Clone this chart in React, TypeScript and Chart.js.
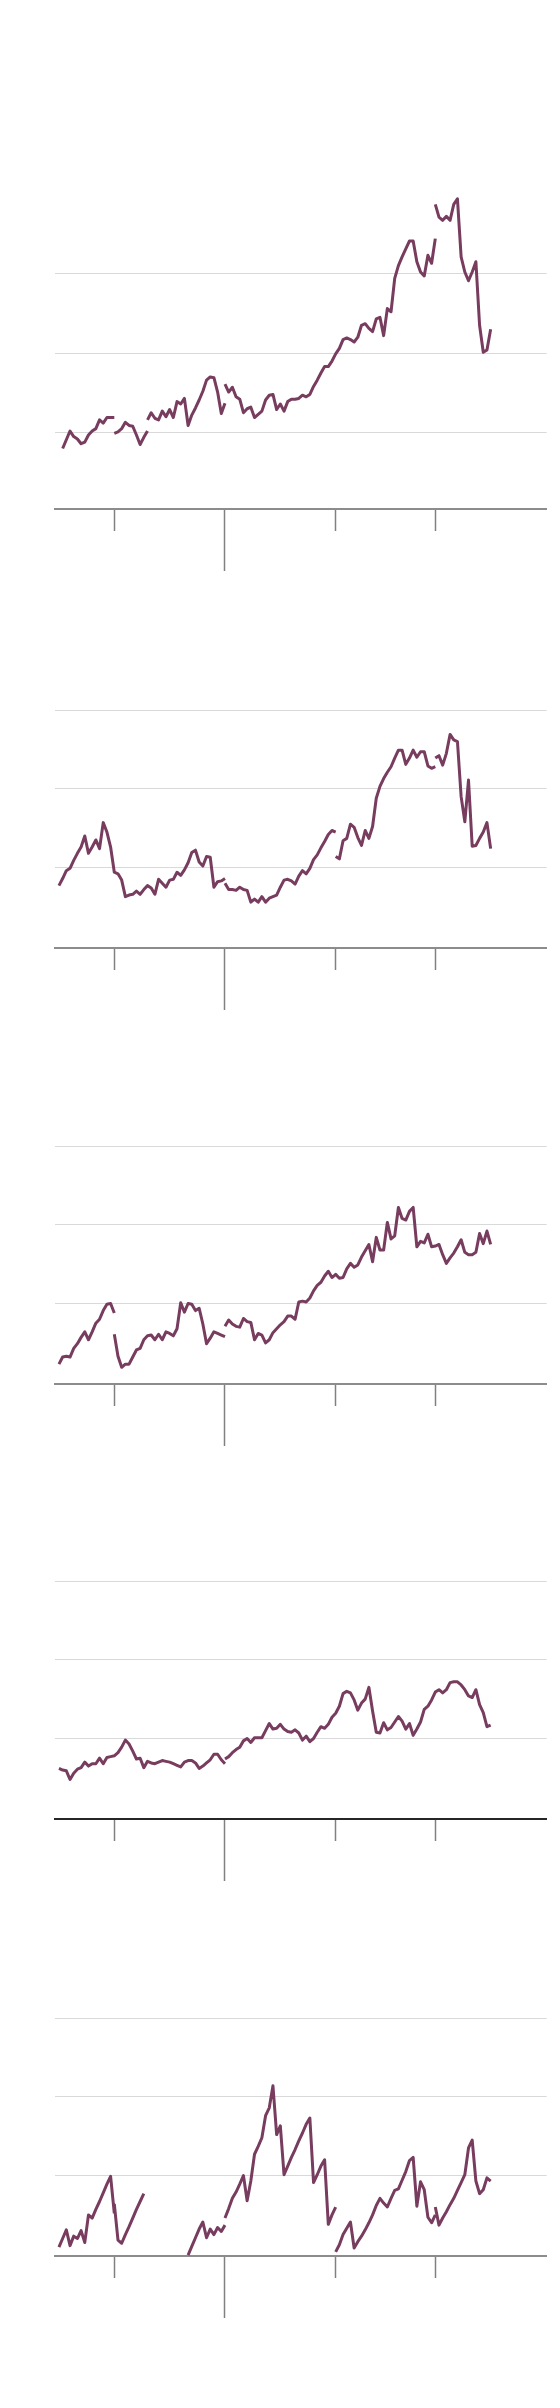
import { useEffect, useRef } from "react";
import { Chart, registerables } from "chart.js";

Chart.register(...registerables);

// ---- categories (four-month periods) ----
const YEARS = [
  1985, 1986, 1987, 1988, 1989, 1990, 1991, 1992, 1993, 1994,
  1995, 1996, 1997, 1998, 1999, 2000, 2001, 2002, 2003, 2004,
  2005, 2006, 2007, 2008, 2009, 2010, 2011, 2012, 2013, 2014,
  2015, 2016, 2017, 2018, 2019, 2020, 2021, 2022, 2023, 2024,
];
const TERMS = ["T1", "T2", "T3"];
const LAST_PERIOD = "2024 T1";
const PERIODS = YEARS.flatMap((y) => TERMS.map((t) => `${y} ${t}`)).filter((p) => p <= LAST_PERIOD);

// ---- x axis ticks ----
const TICK_YEARS = [1990, 2000, 2010, 2019];
const MAJOR_TICK_YEARS = [2000];
const GRID_VALUES = [10, 20, 30];

// ---- panel 1 ----
const p1a = [8.0, 9.1, 10.2, 9.5, 9.2, 8.6, 8.8, 9.7, 10.2, 10.5, 11.6, 11.2, 11.9, 11.9, 11.9];
const p1b = [9.9, 10.1, 10.5, 11.3, 10.9, 10.8, 9.7, 8.5, 9.4, 10.2];
const p1c = [11.6, 12.5, 11.8, 11.6, 12.7, 12.0, 12.9, 11.9, 13.9, 13.6, 14.3, 10.9, 12.2, 13.1, 14.1, 15.2, 16.6, 17.0, 16.9, 15.1, 12.4, 13.7];
const p1d = [16.1, 15.1, 15.7, 14.5, 14.2, 12.5, 13.0, 13.2, 11.9, 12.3, 12.7, 14.1, 14.7, 14.8, 12.9, 13.6, 12.7, 13.9, 14.2, 14.2, 14.3, 14.7, 14.5, 14.8, 15.8, 16.6, 17.5, 18.3, 18.3, 19.0, 19.9, 20.6, 21.7, 21.9, 21.7, 21.4, 22.0, 23.5, 23.7, 23.1, 22.7, 24.3, 24.5, 22.2, 25.6, 25.2, 29.4, 31.0, 32.1, 33.1, 34.1, 34.1, 31.5, 30.2, 29.7, 32.3, 31.3, 34.4];
const p1e = [38.7, 37.1, 36.7, 37.2, 36.7, 38.7, 39.4, 32.1, 30.2, 29.1, 30.2, 31.5, 23.5, 20.1, 20.4, 23.0];

// ---- panel 2 ----
const p2a = [7.7, 8.6, 9.6, 9.9, 10.9, 11.8, 12.6, 14.0, 11.8, 12.6, 13.5, 12.4, 15.7, 14.5, 12.6, 9.4, 9.2, 8.4, 6.3, 6.5, 6.6, 7.0, 6.6, 7.2, 7.7, 7.4, 6.6, 8.5, 8.0, 7.5, 8.4, 8.5, 9.4, 9.0, 9.7, 10.6, 11.9, 12.2, 10.7, 10.2, 11.4, 11.3, 7.5, 8.2, 8.3, 8.6];
const p2b = [8.0, 7.2, 7.2, 7.1, 7.5, 7.2, 7.1, 5.6, 6.0, 5.6, 6.3, 5.6, 6.1, 6.3, 6.5, 7.5, 8.4, 8.5, 8.3, 7.9, 8.9, 9.6, 9.2, 9.9, 11.0, 11.6, 12.5, 13.3, 14.2, 14.7, 14.5];
const p2c = [11.4, 11.1, 13.4, 13.7, 15.5, 15.1, 13.8, 12.8, 14.7, 13.7, 15.2, 18.8, 20.3, 21.3, 22.1, 22.8, 23.9, 24.9, 24.9, 23.1, 23.9, 24.9, 24.0, 24.7, 24.7, 22.9, 22.6, 22.8];
const p2d = [23.9, 24.2, 23.0, 24.5, 26.9, 26.2, 26.0, 19.0, 15.8, 21.1, 12.7, 12.8, 13.7, 14.5, 15.7, 12.4];

// ---- panel 3 ----
const p3a = [2.3, 3.2, 3.3, 3.2, 4.3, 4.9, 5.7, 6.4, 5.4, 6.4, 7.5, 8.0, 9.1, 9.9, 10.0, 8.8];
const p3b = [6.1, 3.3, 1.9, 2.3, 2.3, 3.2, 4.1, 4.3, 5.4, 5.9, 6.0, 5.4, 6.1, 5.4, 6.4, 6.2, 5.9, 6.8, 10.1, 8.9, 10.0, 9.9, 9.1, 9.4, 7.4, 4.9, 5.6, 6.4, 6.2, 6.0, 5.8];
const p3c = [7.1, 7.9, 7.4, 7.1, 7.0, 8.1, 7.7, 7.6, 5.4, 6.2, 6.0, 5.0, 5.4, 6.3, 6.8, 7.3, 7.7, 8.4, 8.4, 8.0, 10.2, 10.3, 10.2, 10.7, 11.6, 12.3, 12.7, 13.5, 14.1, 13.3, 13.7, 13.2, 13.3, 14.4, 15.1, 14.6, 14.9, 15.9, 16.7, 17.5, 15.3, 18.4, 16.8, 16.8, 20.3, 18.2, 18.6, 22.2, 20.8, 20.6, 21.7, 22.2, 17.2, 17.9, 17.7, 18.8, 17.2, 17.3, 17.5, 16.2, 15.1, 15.8, 16.4, 17.2, 18.1, 16.5, 16.2, 16.2, 16.5, 18.9, 17.6, 19.2, 17.5];

// ---- panel 4 ----
const p4a = [6.2, 6.0, 5.9, 4.8, 5.6, 6.1, 6.3, 7.0, 6.5, 6.8, 6.8, 7.5, 6.8, 7.6, 7.7, 7.8, 8.2, 8.9, 9.8, 9.3, 8.4, 7.4, 7.5, 6.3, 7.1, 6.9, 6.8, 7.0, 7.2, 7.1, 7.0, 6.8, 6.6, 6.4, 7.0, 7.2, 7.2, 6.9, 6.2, 6.5, 6.9, 7.3, 8.0, 8.0, 7.3, 6.8];
const p4b = [7.4, 7.7, 8.2, 8.6, 8.9, 9.7, 10.0, 9.5, 10.1, 10.1, 10.1, 11.0, 11.9, 11.2, 11.3, 11.8, 11.2, 10.9, 10.8, 11.1, 10.7, 9.8, 10.3, 9.6, 10.0, 10.8, 11.5, 11.3, 11.8, 12.7, 13.2, 14.1, 15.7, 16.0, 15.8, 14.9, 13.6, 14.5, 15.0, 16.5, 13.5, 10.8, 10.7, 12.0, 11.1, 11.4, 12.1, 12.8, 12.2, 11.2, 11.9, 10.4, 11.2, 12.1, 13.7, 14.1, 14.9, 15.9, 16.2, 15.8, 16.2, 17.1, 17.2, 17.2, 16.8, 16.2, 15.4, 15.2, 16.2, 14.3, 13.3, 11.5, 11.7];

// ---- panel 5 ----
const p5a = [0.9, 2.0, 3.1, 1.1, 2.3, 2.0, 3.0, 1.5, 5.0, 4.6, 5.7, 6.7, 7.8, 8.9, 9.9, 5.2];
const p5b = [6.4, 1.8, 1.4, 2.5, 3.5, 4.6, 5.7, 6.7, 7.7];
const p5c = [-0.1, 1.0, 2.1, 3.2, 4.1, 2.1, 3.2, 2.5, 3.4, 2.9, 3.7];
const p5d = [4.6, 5.8, 7.1, 7.9, 8.9, 10.0, 6.8, 9.3, 12.7, 13.7, 14.8, 17.6, 18.6, 21.4, 15.2, 16.3, 10.1, 11.2, 12.3, 13.3, 14.4, 15.4, 16.5, 17.3, 9.1, 10.1, 11.2, 12.0, 3.8, 5.0, 6.0];
const p5e = [0.3, 1.2, 2.5, 3.3, 4.1, 0.8, 1.6, 2.3, 3.1, 4.0, 5.0, 6.2, 7.1, 6.5, 6.0, 7.1, 8.1, 8.3, 9.4, 10.5, 11.9, 12.3, 6.1, 9.2, 8.2, 4.7, 4.0, 5.0];
const p5f = [6.0, 3.7, 4.6, 5.4, 6.3, 7.1, 8.1, 9.1, 10.1, 13.5, 14.5, 9.3, 7.7, 8.2, 9.7, 9.3];

type Segment = { from: string; values: number[] };
type PanelDef = { segments: Segment[]; yMin: number; yMax: number; axisColor: string; top: number };

const PANELS: PanelDef[] = [
  {
    segments: [
      { from: "1985 T2", values: p1a },
      { from: "1990 T1", values: p1b },
      { from: "1993 T1", values: p1c },
      { from: "2000 T1", values: p1d },
      { from: "2019 T1", values: p1e },
    ],
    yMin: 0.39, yMax: 40.39, axisColor: "#8c8c8c", top: 153,
  },
  {
    segments: [
      { from: "1985 T1", values: p2a },
      { from: "2000 T1", values: p2b },
      { from: "2010 T1", values: p2c },
      { from: "2019 T1", values: p2d },
    ],
    yMin: -0.22, yMax: 40.16, axisColor: "#8c8c8c", top: 592,
  },
  {
    segments: [
      { from: "1985 T1", values: p3a },
      { from: "1990 T1", values: p3b },
      { from: "2000 T1", values: p3c },
    ],
    yMin: -0.22, yMax: 40.16, axisColor: "#8c8c8c", top: 1028,
  },
  {
    segments: [
      { from: "1985 T1", values: p4a },
      { from: "2000 T1", values: p4b },
    ],
    yMin: -0.22, yMax: 40.16, axisColor: "#262626", top: 1463,
  },
  {
    segments: [
      { from: "1985 T1", values: p5a },
      { from: "1990 T1", values: p5b },
      { from: "1996 T3", values: p5c },
      { from: "2000 T1", values: p5d },
      { from: "2010 T1", values: p5e },
      { from: "2019 T1", values: p5f },
    ],
    yMin: -0.22, yMax: 40.16, axisColor: "#8c8c8c", top: 1900,
  },
];

const LINE_COLOR = "#773c5e";
const X_MIN = 1984.67;
const X_MAX = 2029.064;

function periodToX(p: string): number {
  const year = Number(p.slice(0, 4));
  const term = Number(p.slice(6));
  return year + (term - 1) / 3;
}

function buildPoints(segments: Segment[]) {
  const pts: { x: number; y: number | null }[] = [];
  segments.forEach((seg, si) => {
    const startIdx = PERIODS.indexOf(seg.from);
    if (si > 0) pts.push({ x: periodToX(PERIODS[startIdx]), y: null });
    seg.values.forEach((v, k) => {
      pts.push({ x: periodToX(PERIODS[startIdx + k]), y: v });
    });
  });
  return pts;
}

function Panel({ def }: { def: PanelDef }) {
  const ref = useRef<HTMLCanvasElement | null>(null);
  useEffect(() => {
    if (!ref.current) return;
    const chart = new Chart(ref.current, {
      type: "line",
      data: {
        datasets: [
          {
            data: buildPoints(def.segments) as any,
            borderColor: LINE_COLOR,
            borderWidth: 3,
            pointRadius: 0,
            tension: 0,
            spanGaps: false,
            borderJoinStyle: "round",
            borderCapStyle: "butt",
          },
        ],
      },
      options: {
        animation: false,
        responsive: false,
        devicePixelRatio: 1,
        layout: { padding: { left: 47.3, right: 5.3, top: 30, bottom: 27 } },
        plugins: { legend: { display: false }, tooltip: { enabled: false } },
        scales: {
          x: {
            type: "linear",
            min: X_MIN,
            max: X_MAX,
            weight: 0,
            afterBuildTicks: (s: any) => {
              s.ticks = TICK_YEARS.map((v) => ({ value: v }));
            },
            ticks: { display: false },
            grid: {
              drawOnChartArea: false,
              drawTicks: true,
              tickLength: 22,
              tickColor: "#808080",
              tickWidth: 1.5,
            },
            border: { display: true, color: def.axisColor, width: 2 },
          },
          xMajor: {
            type: "linear",
            axis: "x",
            position: "bottom",
            min: X_MIN,
            max: X_MAX,
            weight: 1,
            afterBuildTicks: (s: any) => {
              s.ticks = MAJOR_TICK_YEARS.map((v) => ({ value: v }));
            },
            ticks: { display: false },
            grid: {
              drawOnChartArea: false,
              drawTicks: true,
              tickLength: 40,
              tickColor: "#808080",
              tickWidth: 1.5,
            },
            border: { display: false },
          },
          y: {
            type: "linear",
            min: def.yMin,
            max: def.yMax,
            afterBuildTicks: (s: any) => {
              s.ticks = GRID_VALUES.map((v) => ({ value: v }));
            },
            ticks: { display: false },
            grid: { color: "#d9d9d9", lineWidth: 1, drawTicks: false },
            border: { display: false },
          },
        } as any,
      },
    });
    return () => chart.destroy();
  }, [def]);
  return (
    <canvas
      ref={ref}
      width={544}
      height={437}
      style={{ position: "absolute", left: 0, top: def.top, width: 544, height: 437, display: "block" }}
    />
  );
}

export default function App() {
  return (
    <div style={{ position: "relative", width: 544, height: 2392, background: "#ffffff" }}>
      {PANELS.map((p, i) => (
        <Panel key={i} def={p} />
      ))}
    </div>
  );
}
